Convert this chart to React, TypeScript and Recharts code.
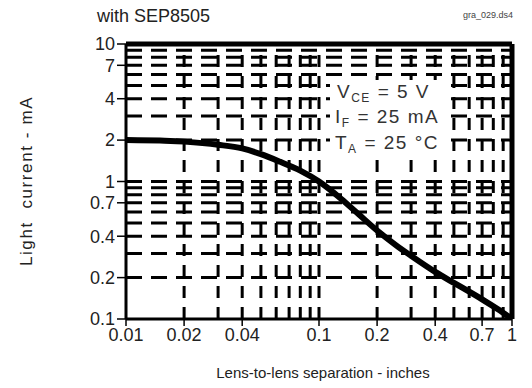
import React from 'react'
import { LineChart, Line, XAxis, YAxis, ReferenceLine } from 'recharts'

// lens separation (inches) vs light current (mA)
const separation = [0.01, 0.015, 0.02, 0.03, 0.04, 0.05, 0.063, 0.08, 0.1, 0.13, 0.16, 0.2, 0.25, 0.3, 0.4, 0.5, 0.6, 0.7, 0.85, 1]
const lightCurrent = [2.0, 1.99, 1.95, 1.85, 1.74, 1.58, 1.39, 1.2, 1.0, 0.75, 0.58, 0.44, 0.345, 0.288, 0.22, 0.183, 0.158, 0.139, 0.117, 0.1]

const xTicks = [0.01, 0.02, 0.04, 0.1, 0.2, 0.4, 0.7, 1]
const yTicks = [0.1, 0.2, 0.4, 0.7, 1, 2, 4, 7, 10]

const xGrid = [0.02, 0.03, 0.04, 0.05, 0.06, 0.07, 0.08, 0.09, 0.1, 0.2, 0.3, 0.4, 0.5, 0.6, 0.7, 0.8, 0.9]
const yGrid = [0.2, 0.3, 0.4, 0.5, 0.6, 0.7, 0.8, 0.9, 1, 2, 3, 4, 5, 6, 7, 8, 9]

const data = separation.map((s, i) => ({ s, mA: lightCurrent[i] }))

const font = '"Liberation Sans", Arial, sans-serif'
const tickStyle = { fill: '#222', fontSize: 18, fontFamily: font }

export default function App() {
  return (
    <div style={{ position: 'absolute', left: 0, top: 0, width: 532, height: 388, background: '#fff' }}>
      <LineChart width={532} height={388} data={data} margin={{ top: 44, right: 20, bottom: 39, left: 86 }}>
        <XAxis
          dataKey="s"
          type="number"
          scale="log"
          domain={[0.01, 1]}
          ticks={xTicks}
          interval={0}
          allowDataOverflow
          height={30}
          tickSize={7}
          tick={tickStyle}
          tickFormatter={(v: number) => String(v)}
          axisLine={{ stroke: '#000', strokeWidth: 3 }}
          tickLine={{ stroke: '#000', strokeWidth: 1.5 }}
        />
        <YAxis
          type="number"
          scale="log"
          domain={[0.1, 10]}
          ticks={yTicks}
          interval={0}
          allowDataOverflow
          width={40}
          tickSize={9}
          tickMargin={2}
          tick={tickStyle}
          tickFormatter={(v: number) => String(v)}
          axisLine={{ stroke: '#000', strokeWidth: 3 }}
          tickLine={{ stroke: '#000', strokeWidth: 1.5 }}
        />
        {yGrid.map(v => (
          <ReferenceLine key={'h' + v} y={v} stroke="#000" strokeWidth={3} strokeDasharray="16 9" ifOverflow="hidden" />
        ))}
        {xGrid.map(v => (
          <ReferenceLine key={'v' + v} x={v} stroke="#000" strokeWidth={3} strokeDasharray="12 9" ifOverflow="hidden" />
        ))}
        <ReferenceLine y={10} stroke="#000" strokeWidth={5} />
        <ReferenceLine x={1} stroke="#000" strokeWidth={5} />
        <Line
          type="monotone"
          dataKey="mA"
          stroke="#000"
          strokeWidth={6}
          dot={false}
          isAnimationActive={false}
        />
      </LineChart>
      <svg width={532} height={388} style={{ position: 'absolute', left: 0, top: 0, pointerEvents: 'none' }}>
        <text x={97} y={22} fontSize={18} fontFamily={font} fill="#222">with SEP8505</text>
        <text x={463} y={18} fontSize={9} fontFamily={font} fill="#444">gra_029.ds4</text>
        <text
          x={32}
          y={181}
          fontSize={17}
          fontFamily={font}
          fill="#222"
          letterSpacing={1.6}
          textAnchor="middle"
          transform="rotate(-90 32 181)"
          style={{ whiteSpace: 'pre' }}
        >
          {'Light  current - mA'}
        </text>
        <text x={323} y={378} fontSize={15} fontFamily={font} fill="#222" textAnchor="middle">
          Lens-to-lens separation - inches
        </text>
        {/* clear box behind the test conditions */}
        <rect x={330} y={80} width={114} height={76} fill="#fff" />
        <g fontFamily={font} fill="#333" fontSize={19} letterSpacing={1.5}>
          <text x={337} y={98}>
            V<tspan fontSize={12} dy={4}>CE</tspan><tspan dy={-4}> = 5 V</tspan>
          </text>
          <text x={335} y={123}>
            I<tspan fontSize={12} dy={4}>F</tspan><tspan dy={-4}> = 25 mA</tspan>
          </text>
          <text x={335} y={149}>
            T<tspan fontSize={12} dy={4}>A</tspan><tspan dy={-4}> = 25 °C</tspan>
          </text>
        </g>
      </svg>
    </div>
  )
}
